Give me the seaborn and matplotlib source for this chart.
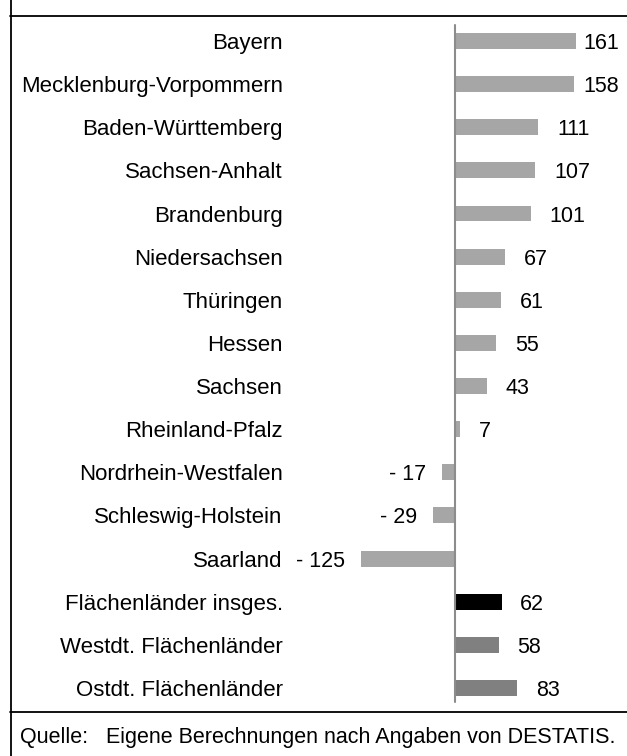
import matplotlib
matplotlib.use("Agg")
import matplotlib.pyplot as plt
from matplotlib.lines import Line2D
import seaborn as sns
import pandas as pd

categories = ["Bayern", "Mecklenburg-Vorpommern", "Baden-Württemberg", "Sachsen-Anhalt",
              "Brandenburg", "Niedersachsen", "Thüringen", "Hessen", "Sachsen",
              "Rheinland-Pfalz", "Nordrhein-Westfalen", "Schleswig-Holstein", "Saarland",
              "Flächenländer insges.", "Westdt. Flächenländer", "Ostdt. Flächenländer"]
values = [161, 158, 111, 107, 101, 67, 61, 55, 43, 7, -17, -29, -125, 62, 58, 83]
colors = ["#A6A6A6"] * 13 + ["#000000", "#808080", "#808080"]
source_label = "Quelle:"
source_text = "Eigene Berechnungen nach Angaben von DESTATIS."

sns.set_theme(style="white")
plt.rcParams["font.family"] = ["Liberation Sans", "DejaVu Sans"]

W, H = 627, 756
fig = plt.figure(figsize=(W / 100, H / 100), dpi=100)

# axes geometry in pixels
ax_left, ax_right = 300, 627
zero_px, scale = 455, 0.75
row_top, row_step, n = 41, 43.13, len(categories)
top_px = row_top - row_step / 2
bot_px = top_px + row_step * n
ax = fig.add_axes([ax_left / W, 1 - bot_px / H, (ax_right - ax_left) / W, (bot_px - top_px) / H])

df = pd.DataFrame({"cat": categories, "val": values})
sns.barplot(data=df, x="val", y="cat", hue="cat", palette=colors, legend=False,
            width=0.37, ax=ax, saturation=1, edgecolor="none")

ax.set_xlim((ax_left - zero_px) / scale, (ax_right - zero_px) / scale)
ax.set_ylim(n - 0.5, -0.5)
for s in ax.spines.values():
    s.set_visible(False)
ax.set_xticks([])
ax.set_xlabel("")
ax.set_ylabel("")
ax.tick_params(axis="y", length=0, pad=12.5, labelsize=16, labelcolor="black")
for lbl in ax.get_yticklabels():
    lbl.set_ha("right")

# zero line
ymin = (bot_px - 702) / (bot_px - top_px)
ymax = (bot_px - 25) / (bot_px - top_px)
ax.axvline(0, ymin=ymin, ymax=ymax, color="#8C8C8C", lw=1.5)

# value labels
right_limit = (583 - zero_px) / scale
for i, v in enumerate(values):
    if v >= 0:
        xpos = min(v + 25, right_limit)
        ax.text(xpos, i, f"{v}", ha="left", va="center_baseline", fontsize=15.5, color="black")
    else:
        ax.text(v - 21, i, f"- {abs(v)}", ha="right", va="center_baseline", fontsize=15.5, color="black")

# frame lines
fig.add_artist(Line2D([11 / W, 11 / W], [0, 1], color="black", lw=1.3, transform=fig.transFigure))
fig.add_artist(Line2D([10 / W, 1], [1 - 16 / H, 1 - 16 / H], color="black", lw=1.3, transform=fig.transFigure))
fig.add_artist(Line2D([10 / W, 1], [1 - 712 / H, 1 - 712 / H], color="black", lw=1.3, transform=fig.transFigure))

fig.text(20 / W, 1 - 735 / H, source_label, ha="left", va="center_baseline", fontsize=15.5, color="black")
fig.text(106 / W, 1 - 735 / H, source_text, ha="left", va="center_baseline", fontsize=15.5, color="black")

fig.savefig("out.png", dpi=100)
